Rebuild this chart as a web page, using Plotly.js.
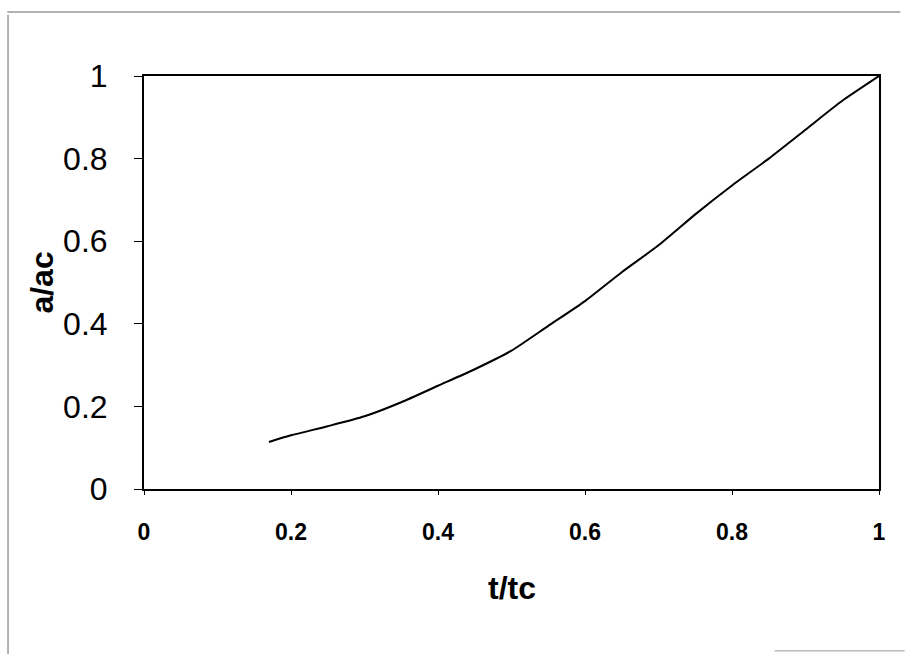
<!DOCTYPE html>
<html>
<head>
<meta charset="utf-8">
<script src="https://cdn.plot.ly/plotly-3.0.1.min.js"></script>
<style>html,body{margin:0;padding:0;background:#fff;}#chart{width:914px;height:654px;}</style>
</head>
<body>
<div id="chart"></div>
<script>
const tRatio = [0.17, 0.2, 0.25, 0.3, 0.35, 0.4, 0.45, 0.5, 0.55, 0.6, 0.65, 0.7, 0.75, 0.8, 0.85, 0.9, 0.95, 1.0];
const aRatio = [0.114, 0.13, 0.152, 0.176, 0.21, 0.25, 0.29, 0.335, 0.395, 0.455, 0.525, 0.59, 0.665, 0.735, 0.80, 0.87, 0.94, 1.0];
const xTickVals = [0, 0.2, 0.4, 0.6, 0.8, 1];
const xTickText = ["0", "0.2", "0.4", "0.6", "0.8", "1"];
const yTickVals = [0, 0.2, 0.4, 0.6, 0.8, 1];
const yTickText = ["0", "0.2", "0.4", "0.6", "0.8", "1"];
const xTitle = "t/tc";
const yTitle = "a/ac";

const fontFam = "Liberation Sans, Arial, sans-serif";

const trace = {
  x: tRatio, y: aRatio, type: "scatter", mode: "lines",
  line: {color: "#000", width: 2, shape: "spline", smoothing: 0.6},
  hoverinfo: "skip", showlegend: false
};

const frameColor = "#666";
const layout = {
  width: 914, height: 654,
  margin: {l: 144, r: 35, t: 76, b: 165},
  paper_bgcolor: "#fff", plot_bgcolor: "#fff",
  showlegend: false,
  xaxis: {
    range: [0, 1], tickvals: xTickVals, ticktext: xTickText,
    ticks: "outside", ticklen: 4, tickwidth: 1, tickcolor: "#000",
    ticklabelstandoff: 17,
    showgrid: false, zeroline: false,
    showline: true, linecolor: "#000", linewidth: 2, mirror: true,
    tickfont: {family: fontFam, size: 23, color: "#000", weight: "bold"}
  },
  yaxis: {
    range: [0, 1], tickvals: yTickVals, ticktext: yTickText,
    ticks: "outside", ticklen: 8, tickwidth: 1, tickcolor: "#000",
    ticklabelstandoff: 20,
    showgrid: false, zeroline: false,
    showline: true, linecolor: "#000", linewidth: 2, mirror: true,
    tickfont: {family: fontFam, size: 32, color: "#000"}
  },
  annotations: [
    {
      xref: "paper", yref: "paper", x: -0.140, y: 0.50,
      text: "<b>" + yTitle + "</b>", textangle: -90, showarrow: false,
      font: {family: fontFam, size: 32, color: "#000"},
      xanchor: "center", yanchor: "middle"
    },
    {
      xref: "paper", yref: "paper", x: 0.5, y: -0.24,
      text: "<b>" + xTitle + "</b>", showarrow: false,
      font: {family: fontFam, size: 32, color: "#000"},
      xanchor: "center", yanchor: "middle"
    }
  ],
  shapes: [
    {type: "line", xref: "paper", yref: "paper", x0: -0.186, x1: 1.029, y0: 1.155, y1: 1.155, line: {color: frameColor, width: 1}},
    {type: "line", xref: "paper", yref: "paper", x0: -0.185, x1: -0.185, y0: 1.148, y1: -0.40, line: {color: frameColor, width: 1}},
    {type: "line", xref: "paper", yref: "paper", x0: 0.858, x1: 1.035, y0: -0.392, y1: -0.392, line: {color: "#999", width: 1}}
  ]
};

Plotly.newPlot("chart", [trace], layout, {staticPlot: true, displayModeBar: false});
</script>
</body>
</html>
